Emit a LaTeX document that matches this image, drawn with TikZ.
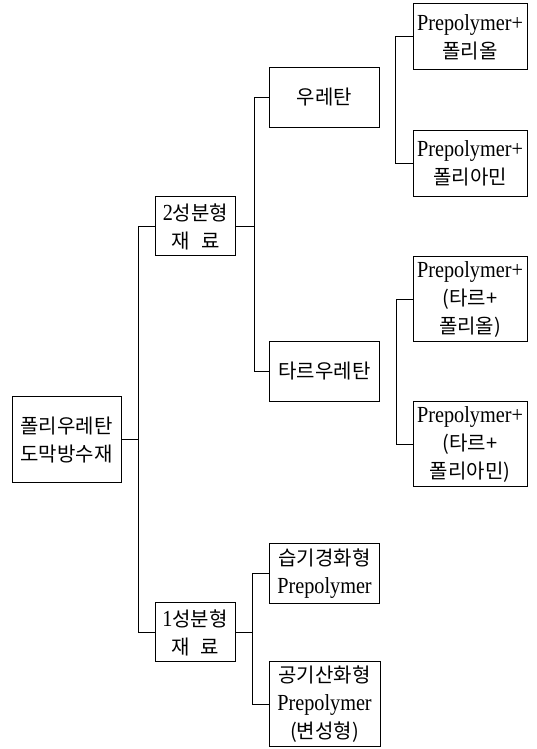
\documentclass[tikz,border=0pt]{standalone}
\usepackage{fontspec}
\setmainfont{Noto Sans CJK KR}
\newfontfamily\lat[FakeStretch=0.88]{Liberation Serif}
\usetikzlibrary{positioning,calc}
\newcommand{\lattext}[1]{{\lat\fontsize{23}{28}\selectfont #1}}

\begin{document}
\begin{tikzpicture}[
    x=1pt, y=1pt,
    every node/.style={draw, line width=1pt, align=center, font=\fontsize{20}{28}\selectfont, inner sep=0pt}, % General node style
    rootbox/.style={minimum width=109pt, minimum height=86pt}, % top box
    groupbox/.style={minimum width=80pt, minimum height=59pt}, % 2성분형 / 1성분형
    typebox/.style={minimum width=110pt, minimum height=60pt}, % 우레탄, 타르우레탄, ...
    leafbox/.style={minimum width=114pt, minimum height=66pt}, % Prepolymer+ ...
    tallbox/.style={minimum width=114pt, minimum height=85pt}, % three lines
    link/.style={line width=1pt}
]
\useasboundingbox (0,0) rectangle (536,749);

\node[rootbox] (root) at (66.5,309) {폴리우레탄\\도막방수재};

\node[groupbox] (two) at (195.5,522.5) {\lattext{2}성분형\\재\hspace{0.55em}료};
\node[groupbox] (one) at (195,116.5) {\lattext{1}성분형\\재\hspace{0.55em}료};

\node[typebox] (ure) at (324.5,651.5) {우레탄};
\node[typebox] (tar) at (324.5,377.5) {타르우레탄};
\node[typebox] (moist) at (324.5,175.5) {습기경화형\\\lattext{Prepolymer}};
\node[tallbox, minimum width=111pt] (air) at (324.5,44.5) {공기산화형\\\lattext{Prepolymer}\\(변성형)};

\node[leafbox] (p1) at (470,712) {\lattext{Prepolymer+}\\폴리올};
\node[leafbox] (p2) at (470,585.5) {\lattext{Prepolymer+}\\폴리아민};
\node[tallbox] (p3) at (470,449.5) {\lattext{Prepolymer+}\\(타르+\\폴리올)};
\node[tallbox] (p4) at (470,304.5) {\lattext{Prepolymer+}\\(타르+\\폴리아민)};

% brackets
\draw[link] (root.east) -- ++(17,0) coordinate (trunk) |- (two.west);
\draw[link] (trunk) |- (one.west);
\draw[link] (two.east) -- ++(18,0) coordinate (fork2) |- (ure.west);
\draw[link] (fork2) |- (tar.west);
\draw[link] (one.east) -- ++(17,0) coordinate (fork1) |- (moist.west);
\draw[link] (fork1) |- (air.west);
\draw[link] (p1.west) -- ++(-17,0) |- (p2.west);
\draw[link] (p3.west) -- ++(-16,0) |- (p4.west);
\end{tikzpicture}
\end{document}
